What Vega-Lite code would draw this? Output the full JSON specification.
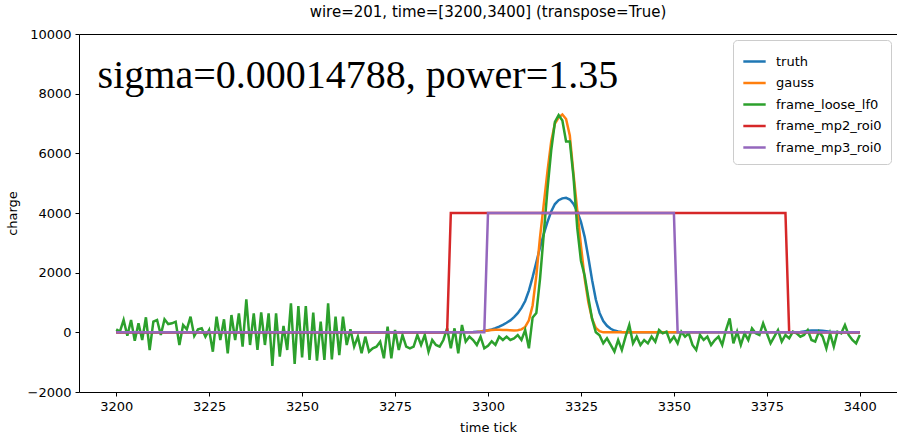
{
"$schema": "https://vega.github.io/schema/vega-lite/v6.json",
"width": 818, "height": 358,
"autosize": {"type": "none"},
"padding": {"left": 79, "top": 34, "right": 0, "bottom": 48},
"background": "white",
"config": {
  "font": "DejaVu Sans",
  "view": {"stroke": "black", "strokeWidth": 1},
  "axis": {"grid": false, "domain": false, "tickColor": "black", "tickSize": 4, "labelFontSize": 13, "labelColor": "black", "titleFontSize": 13, "titleFontWeight": "normal", "titleColor": "black", "labelFont": "DejaVu Sans", "titleFont": "DejaVu Sans"},
  "legend": {"orient": "none", "legendX": 654, "legendY": 6, "strokeColor": "#cccccc", "fillColor": "white", "cornerRadius": 4, "padding": 9, "symbolType": "stroke", "symbolStrokeWidth": 2.5, "symbolSize": 500, "labelFontSize": 13, "labelColor": "black", "labelFont": "DejaVu Sans", "rowPadding": 1.5, "labelOffset": 9}
},
"title": {"text": "wire=201, time=[3200,3400] (transpose=True)", "fontSize": 15, "fontWeight": "normal", "font": "DejaVu Sans", "color": "black", "offset": 8},
"datasets": {
"d": [
{"s":"truth","t":3200,"v":0},{"s":"truth","t":3294,"v":0},{"s":"truth","t":3295,"v":5},{"s":"truth","t":3296,"v":10},{"s":"truth","t":3297,"v":20},{"s":"truth","t":3298,"v":32},{"s":"truth","t":3299,"v":50},{"s":"truth","t":3300,"v":70},{"s":"truth","t":3301,"v":100},{"s":"truth","t":3302,"v":140},{"s":"truth","t":3303,"v":190},{"s":"truth","t":3304,"v":250},{"s":"truth","t":3305,"v":320},{"s":"truth","t":3306,"v":400},{"s":"truth","t":3307,"v":510},{"s":"truth","t":3308,"v":640},{"s":"truth","t":3309,"v":820},{"s":"truth","t":3310,"v":1050},{"s":"truth","t":3311,"v":1400},{"s":"truth","t":3312,"v":1850},{"s":"truth","t":3313,"v":2350},{"s":"truth","t":3314,"v":2850},{"s":"truth","t":3315,"v":3300},{"s":"truth","t":3316,"v":3700},{"s":"truth","t":3317,"v":4050},{"s":"truth","t":3318,"v":4300},{"s":"truth","t":3319,"v":4430},{"s":"truth","t":3320,"v":4490},{"s":"truth","t":3321,"v":4510},{"s":"truth","t":3322,"v":4450},{"s":"truth","t":3323,"v":4300},{"s":"truth","t":3324,"v":4050},{"s":"truth","t":3325,"v":3700},{"s":"truth","t":3326,"v":3200},{"s":"truth","t":3327,"v":2500},{"s":"truth","t":3328,"v":1750},{"s":"truth","t":3329,"v":1100},{"s":"truth","t":3330,"v":650},{"s":"truth","t":3331,"v":380},{"s":"truth","t":3332,"v":220},{"s":"truth","t":3333,"v":120},{"s":"truth","t":3334,"v":60},{"s":"truth","t":3335,"v":30},{"s":"truth","t":3336,"v":12},{"s":"truth","t":3337,"v":0},{"s":"truth","t":3383,"v":0},{"s":"truth","t":3384,"v":10},{"s":"truth","t":3385,"v":30},{"s":"truth","t":3386,"v":50},{"s":"truth","t":3387,"v":60},{"s":"truth","t":3388,"v":65},{"s":"truth","t":3389,"v":60},{"s":"truth","t":3390,"v":50},{"s":"truth","t":3391,"v":35},{"s":"truth","t":3392,"v":20},{"s":"truth","t":3393,"v":10},{"s":"truth","t":3394,"v":0},{"s":"truth","t":3400,"v":0},
{"s":"gauss","t":3200,"v":0},{"s":"gauss","t":3296,"v":0},{"s":"gauss","t":3297,"v":10},{"s":"gauss","t":3298,"v":25},{"s":"gauss","t":3299,"v":45},{"s":"gauss","t":3300,"v":65},{"s":"gauss","t":3301,"v":80},{"s":"gauss","t":3302,"v":85},{"s":"gauss","t":3303,"v":85},{"s":"gauss","t":3304,"v":80},{"s":"gauss","t":3305,"v":75},{"s":"gauss","t":3306,"v":70},{"s":"gauss","t":3307,"v":65},{"s":"gauss","t":3308,"v":70},{"s":"gauss","t":3309,"v":100},{"s":"gauss","t":3310,"v":180},{"s":"gauss","t":3311,"v":400},{"s":"gauss","t":3312,"v":900},{"s":"gauss","t":3313,"v":1900},{"s":"gauss","t":3314,"v":3200},{"s":"gauss","t":3315,"v":4300},{"s":"gauss","t":3316,"v":5400},{"s":"gauss","t":3317,"v":6400},{"s":"gauss","t":3318,"v":7000},{"s":"gauss","t":3319,"v":7200},{"s":"gauss","t":3320,"v":7300},{"s":"gauss","t":3321,"v":7150},{"s":"gauss","t":3322,"v":6600},{"s":"gauss","t":3323,"v":5300},{"s":"gauss","t":3324,"v":4100},{"s":"gauss","t":3325,"v":2900},{"s":"gauss","t":3326,"v":1800},{"s":"gauss","t":3327,"v":1000},{"s":"gauss","t":3328,"v":450},{"s":"gauss","t":3329,"v":150},{"s":"gauss","t":3330,"v":40},{"s":"gauss","t":3331,"v":0},{"s":"gauss","t":3400,"v":0},
{"s":"frame_mp2_roi0","t":3200,"v":0},{"s":"frame_mp2_roi0","t":3289,"v":0},{"s":"frame_mp2_roi0","t":3290,"v":4000},{"s":"frame_mp2_roi0","t":3380,"v":4000},{"s":"frame_mp2_roi0","t":3381,"v":0},{"s":"frame_mp2_roi0","t":3400,"v":0},
{"s":"frame_mp3_roi0","t":3200,"v":0},{"s":"frame_mp3_roi0","t":3299,"v":0},{"s":"frame_mp3_roi0","t":3300,"v":4000},{"s":"frame_mp3_roi0","t":3350,"v":4000},{"s":"frame_mp3_roi0","t":3351,"v":0},{"s":"frame_mp3_roi0","t":3400,"v":0},
{"s":"frame_loose_lf0","t":3200,"v":100},{"s":"frame_loose_lf0","t":3201,"v":22},{"s":"frame_loose_lf0","t":3202,"v":413},{"s":"frame_loose_lf0","t":3203,"v":-112},{"s":"frame_loose_lf0","t":3204,"v":413},{"s":"frame_loose_lf0","t":3205,"v":-279},{"s":"frame_loose_lf0","t":3206,"v":302},{"s":"frame_loose_lf0","t":3207,"v":-257},{"s":"frame_loose_lf0","t":3208,"v":503},{"s":"frame_loose_lf0","t":3209,"v":-592},
{"s":"frame_loose_lf0","t":3210,"v":357},{"s":"frame_loose_lf0","t":3211,"v":413},{"s":"frame_loose_lf0","t":3212,"v":-89},{"s":"frame_loose_lf0","t":3213,"v":436},{"s":"frame_loose_lf0","t":3214,"v":279},{"s":"frame_loose_lf0","t":3215,"v":302},{"s":"frame_loose_lf0","t":3216,"v":357},{"s":"frame_loose_lf0","t":3217,"v":-424},{"s":"frame_loose_lf0","t":3218,"v":246},{"s":"frame_loose_lf0","t":3219,"v":100},
{"s":"frame_loose_lf0","t":3220,"v":525},{"s":"frame_loose_lf0","t":3221,"v":-123},{"s":"frame_loose_lf0","t":3222,"v":100},{"s":"frame_loose_lf0","t":3223,"v":134},{"s":"frame_loose_lf0","t":3224,"v":-145},{"s":"frame_loose_lf0","t":3225,"v":78},{"s":"frame_loose_lf0","t":3226,"v":-648},{"s":"frame_loose_lf0","t":3227,"v":525},{"s":"frame_loose_lf0","t":3228,"v":-257},{"s":"frame_loose_lf0","t":3229,"v":436},
{"s":"frame_loose_lf0","t":3230,"v":-704},{"s":"frame_loose_lf0","t":3231,"v":581},{"s":"frame_loose_lf0","t":3232,"v":-257},{"s":"frame_loose_lf0","t":3233,"v":637},{"s":"frame_loose_lf0","t":3234,"v":-480},{"s":"frame_loose_lf0","t":3235,"v":1106},{"s":"frame_loose_lf0","t":3236,"v":-424},{"s":"frame_loose_lf0","t":3237,"v":637},{"s":"frame_loose_lf0","t":3238,"v":-592},{"s":"frame_loose_lf0","t":3239,"v":670},
{"s":"frame_loose_lf0","t":3240,"v":-424},{"s":"frame_loose_lf0","t":3241,"v":637},{"s":"frame_loose_lf0","t":3242,"v":-1128},{"s":"frame_loose_lf0","t":3243,"v":637},{"s":"frame_loose_lf0","t":3244,"v":-815},{"s":"frame_loose_lf0","t":3245,"v":212},{"s":"frame_loose_lf0","t":3246,"v":-592},{"s":"frame_loose_lf0","t":3247,"v":972},{"s":"frame_loose_lf0","t":3248,"v":-1061},{"s":"frame_loose_lf0","t":3249,"v":882},
{"s":"frame_loose_lf0","t":3250,"v":-838},{"s":"frame_loose_lf0","t":3251,"v":882},{"s":"frame_loose_lf0","t":3252,"v":-927},{"s":"frame_loose_lf0","t":3253,"v":659},{"s":"frame_loose_lf0","t":3254,"v":-950},{"s":"frame_loose_lf0","t":3255,"v":357},{"s":"frame_loose_lf0","t":3256,"v":-927},{"s":"frame_loose_lf0","t":3257,"v":972},{"s":"frame_loose_lf0","t":3258,"v":-905},{"s":"frame_loose_lf0","t":3259,"v":525},
{"s":"frame_loose_lf0","t":3260,"v":-760},{"s":"frame_loose_lf0","t":3261,"v":525},{"s":"frame_loose_lf0","t":3262,"v":-424},{"s":"frame_loose_lf0","t":3263,"v":100},{"s":"frame_loose_lf0","t":3264,"v":-480},{"s":"frame_loose_lf0","t":3265,"v":-145},{"s":"frame_loose_lf0","t":3266,"v":-704},{"s":"frame_loose_lf0","t":3267,"v":-145},{"s":"frame_loose_lf0","t":3268,"v":-648},{"s":"frame_loose_lf0","t":3269,"v":-536},
{"s":"frame_loose_lf0","t":3270,"v":-480},{"s":"frame_loose_lf0","t":3271,"v":-313},{"s":"frame_loose_lf0","t":3272,"v":-871},{"s":"frame_loose_lf0","t":3273,"v":190},{"s":"frame_loose_lf0","t":3274,"v":-871},{"s":"frame_loose_lf0","t":3275,"v":78},{"s":"frame_loose_lf0","t":3276,"v":-592},{"s":"frame_loose_lf0","t":3277,"v":-89},{"s":"frame_loose_lf0","t":3278,"v":-480},{"s":"frame_loose_lf0","t":3279,"v":-536},
{"s":"frame_loose_lf0","t":3280,"v":-480},{"s":"frame_loose_lf0","t":3281,"v":-89},{"s":"frame_loose_lf0","t":3282,"v":-424},{"s":"frame_loose_lf0","t":3283,"v":-89},{"s":"frame_loose_lf0","t":3284,"v":-648},{"s":"frame_loose_lf0","t":3285,"v":-257},{"s":"frame_loose_lf0","t":3286,"v":-424},{"s":"frame_loose_lf0","t":3287,"v":-480},{"s":"frame_loose_lf0","t":3288,"v":-257},{"s":"frame_loose_lf0","t":3289,"v":134},
{"s":"frame_loose_lf0","t":3290,"v":-536},{"s":"frame_loose_lf0","t":3291,"v":134},{"s":"frame_loose_lf0","t":3292,"v":-704},{"s":"frame_loose_lf0","t":3293,"v":246},{"s":"frame_loose_lf0","t":3294,"v":-313},{"s":"frame_loose_lf0","t":3295,"v":-145},{"s":"frame_loose_lf0","t":3296,"v":-257},{"s":"frame_loose_lf0","t":3297,"v":-424},{"s":"frame_loose_lf0","t":3298,"v":-145},{"s":"frame_loose_lf0","t":3299,"v":-536},
{"s":"frame_loose_lf0","t":3300,"v":-450},{"s":"frame_loose_lf0","t":3301,"v":-300},{"s":"frame_loose_lf0","t":3302,"v":-420},{"s":"frame_loose_lf0","t":3303,"v":-145},{"s":"frame_loose_lf0","t":3304,"v":-257},{"s":"frame_loose_lf0","t":3305,"v":-145},{"s":"frame_loose_lf0","t":3306,"v":-257},{"s":"frame_loose_lf0","t":3307,"v":-201},{"s":"frame_loose_lf0","t":3308,"v":-89},{"s":"frame_loose_lf0","t":3309,"v":-257},
{"s":"frame_loose_lf0","t":3310,"v":78},{"s":"frame_loose_lf0","t":3311,"v":-536},{"s":"frame_loose_lf0","t":3312,"v":500},{"s":"frame_loose_lf0","t":3313,"v":650},{"s":"frame_loose_lf0","t":3314,"v":1800},{"s":"frame_loose_lf0","t":3315,"v":3300},{"s":"frame_loose_lf0","t":3316,"v":4800},{"s":"frame_loose_lf0","t":3317,"v":6100},{"s":"frame_loose_lf0","t":3318,"v":7050},{"s":"frame_loose_lf0","t":3319,"v":7280},
{"s":"frame_loose_lf0","t":3320,"v":7100},{"s":"frame_loose_lf0","t":3321,"v":6400},{"s":"frame_loose_lf0","t":3322,"v":6400},{"s":"frame_loose_lf0","t":3323,"v":5200},{"s":"frame_loose_lf0","t":3324,"v":3500},{"s":"frame_loose_lf0","t":3325,"v":2400},{"s":"frame_loose_lf0","t":3326,"v":1900},{"s":"frame_loose_lf0","t":3327,"v":1150},{"s":"frame_loose_lf0","t":3328,"v":450},{"s":"frame_loose_lf0","t":3329,"v":0},
{"s":"frame_loose_lf0","t":3330,"v":-100},{"s":"frame_loose_lf0","t":3331,"v":-369},{"s":"frame_loose_lf0","t":3332,"v":-201},{"s":"frame_loose_lf0","t":3333,"v":-424},{"s":"frame_loose_lf0","t":3334,"v":-648},{"s":"frame_loose_lf0","t":3335,"v":-257},{"s":"frame_loose_lf0","t":3336,"v":-592},{"s":"frame_loose_lf0","t":3337,"v":-145},{"s":"frame_loose_lf0","t":3338,"v":246},{"s":"frame_loose_lf0","t":3339,"v":-369},
{"s":"frame_loose_lf0","t":3340,"v":-145},{"s":"frame_loose_lf0","t":3341,"v":-424},{"s":"frame_loose_lf0","t":3342,"v":-257},{"s":"frame_loose_lf0","t":3343,"v":-369},{"s":"frame_loose_lf0","t":3344,"v":-145},{"s":"frame_loose_lf0","t":3345,"v":-313},{"s":"frame_loose_lf0","t":3346,"v":78},{"s":"frame_loose_lf0","t":3347,"v":-34},{"s":"frame_loose_lf0","t":3348,"v":22},{"s":"frame_loose_lf0","t":3349,"v":-313},
{"s":"frame_loose_lf0","t":3350,"v":-145},{"s":"frame_loose_lf0","t":3351,"v":-369},{"s":"frame_loose_lf0","t":3352,"v":22},{"s":"frame_loose_lf0","t":3353,"v":-145},{"s":"frame_loose_lf0","t":3354,"v":-34},{"s":"frame_loose_lf0","t":3355,"v":-424},{"s":"frame_loose_lf0","t":3356,"v":-592},{"s":"frame_loose_lf0","t":3357,"v":-89},{"s":"frame_loose_lf0","t":3358,"v":-257},{"s":"frame_loose_lf0","t":3359,"v":-145},
{"s":"frame_loose_lf0","t":3360,"v":-424},{"s":"frame_loose_lf0","t":3361,"v":-257},{"s":"frame_loose_lf0","t":3362,"v":-145},{"s":"frame_loose_lf0","t":3363,"v":-424},{"s":"frame_loose_lf0","t":3364,"v":78},{"s":"frame_loose_lf0","t":3365,"v":469},{"s":"frame_loose_lf0","t":3366,"v":-369},{"s":"frame_loose_lf0","t":3367,"v":22},{"s":"frame_loose_lf0","t":3368,"v":-424},{"s":"frame_loose_lf0","t":3369,"v":-34},
{"s":"frame_loose_lf0","t":3370,"v":-257},{"s":"frame_loose_lf0","t":3371,"v":134},{"s":"frame_loose_lf0","t":3372,"v":-34},{"s":"frame_loose_lf0","t":3373,"v":-89},{"s":"frame_loose_lf0","t":3374,"v":302},{"s":"frame_loose_lf0","t":3375,"v":-34},{"s":"frame_loose_lf0","t":3376,"v":-369},{"s":"frame_loose_lf0","t":3377,"v":-145},{"s":"frame_loose_lf0","t":3378,"v":78},{"s":"frame_loose_lf0","t":3379,"v":-313},
{"s":"frame_loose_lf0","t":3380,"v":-89},{"s":"frame_loose_lf0","t":3381,"v":-201},{"s":"frame_loose_lf0","t":3382,"v":22},{"s":"frame_loose_lf0","t":3383,"v":-34},{"s":"frame_loose_lf0","t":3384,"v":-145},{"s":"frame_loose_lf0","t":3385,"v":-89},{"s":"frame_loose_lf0","t":3386,"v":78},{"s":"frame_loose_lf0","t":3387,"v":-257},{"s":"frame_loose_lf0","t":3388,"v":-313},{"s":"frame_loose_lf0","t":3389,"v":22},
{"s":"frame_loose_lf0","t":3390,"v":-145},{"s":"frame_loose_lf0","t":3391,"v":-536},{"s":"frame_loose_lf0","t":3392,"v":-34},{"s":"frame_loose_lf0","t":3393,"v":-480},{"s":"frame_loose_lf0","t":3394,"v":22},{"s":"frame_loose_lf0","t":3395,"v":-34},{"s":"frame_loose_lf0","t":3396,"v":246},{"s":"frame_loose_lf0","t":3397,"v":-89},{"s":"frame_loose_lf0","t":3398,"v":-257},{"s":"frame_loose_lf0","t":3399,"v":-369},
{"s":"frame_loose_lf0","t":3400,"v":-89}
],
"note": [{"label": "sigma=0.00014788, power=1.35"}]
},
"layer": [
 {"data": {"name": "d"}, "transform": [{"filter": "datum.s === 'truth'"}], "mark": {"type": "line", "strokeWidth": 2.5, "clip": true},
  "encoding": {
   "x": {"field": "t", "type": "quantitative", "scale": {"domain": [3190, 3410], "nice": false, "zero": false}, "axis": {"values": [3200,3225,3250,3275,3300,3325,3350,3375,3400], "title": "time tick", "format": "d", "labelPadding": 4, "titlePadding": 8}},
   "y": {"field": "v", "type": "quantitative", "scale": {"domain": [-2000, 10000], "nice": false, "zero": false}, "axis": {"values": [-2000,0,2000,4000,6000,8000,10000], "title": "charge", "format": "d", "labelPadding": 4, "titlePadding": 8}},
   "color": {"field": "s", "type": "nominal", "scale": {"domain": ["truth","gauss","frame_loose_lf0","frame_mp2_roi0","frame_mp3_roi0"], "range": ["#1f77b4","#ff7f0e","#2ca02c","#d62728","#9467bd"]}, "legend": {"title": null}}
  }},
 {"data": {"name": "d"}, "transform": [{"filter": "datum.s === 'gauss'"}], "mark": {"type": "line", "strokeWidth": 2.5, "clip": true},
  "encoding": {"x": {"field": "t", "type": "quantitative"}, "y": {"field": "v", "type": "quantitative"}, "color": {"field": "s", "type": "nominal"}}},
 {"data": {"name": "d"}, "transform": [{"filter": "datum.s === 'frame_loose_lf0'"}], "mark": {"type": "line", "strokeWidth": 2.5, "clip": true},
  "encoding": {"x": {"field": "t", "type": "quantitative"}, "y": {"field": "v", "type": "quantitative"}, "color": {"field": "s", "type": "nominal"}}},
 {"data": {"name": "d"}, "transform": [{"filter": "datum.s === 'frame_mp2_roi0'"}], "mark": {"type": "line", "strokeWidth": 2.5, "clip": true},
  "encoding": {"x": {"field": "t", "type": "quantitative"}, "y": {"field": "v", "type": "quantitative"}, "color": {"field": "s", "type": "nominal"}}},
 {"data": {"name": "d"}, "transform": [{"filter": "datum.s === 'frame_mp3_roi0'"}], "mark": {"type": "line", "strokeWidth": 2.5, "clip": true},
  "encoding": {"x": {"field": "t", "type": "quantitative"}, "y": {"field": "v", "type": "quantitative"}, "color": {"field": "s", "type": "nominal"}}},
 {"data": {"name": "note"}, "mark": {"type": "text", "font": "Liberation Serif", "fontSize": 40, "align": "left", "baseline": "alphabetic", "color": "black"},
  "encoding": {"x": {"datum": 3195}, "y": {"datum": 8180}, "text": {"field": "label"}}}
]
}
